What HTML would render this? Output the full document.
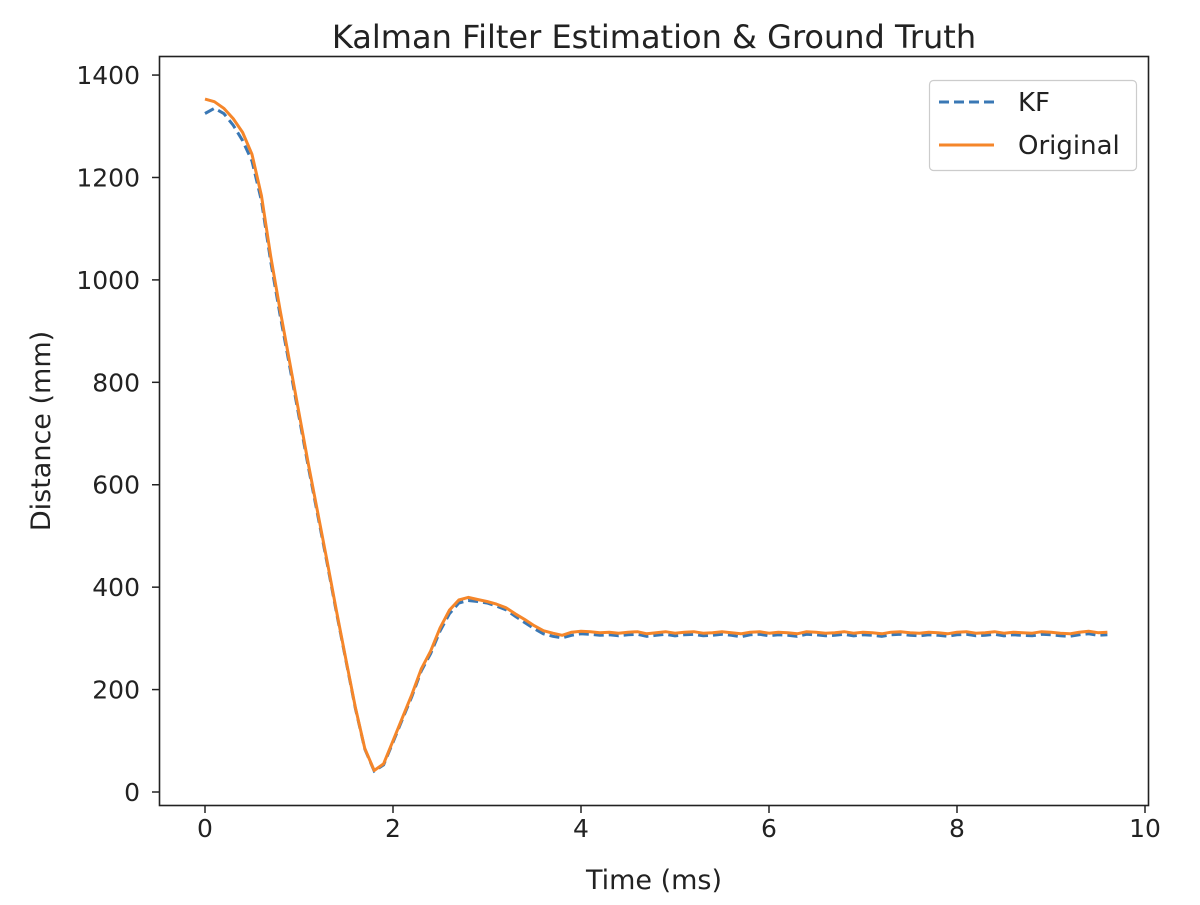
<!DOCTYPE html>
<html><head><meta charset="utf-8"><style>
body{margin:0;background:#fff;}
svg text{font-family:"DejaVu Sans","Liberation Sans",sans-serif;fill:#222;}
</style></head><body>
<svg id="chart" width="1200" height="900" xmlns="http://www.w3.org/2000/svg">
<rect width="1200" height="900" fill="#fff"/>
<text x="654" y="48" font-size="32" text-anchor="middle">Kalman Filter Estimation &amp; Ground Truth</text>
<g id="ticks"></g>
<g id="series"></g>
<rect x="159.5" y="56.5" width="989" height="749" fill="none" stroke="#222" stroke-width="1.6"/>
<text x="654" y="889" font-size="27" text-anchor="middle">Time (ms)</text>
<text transform="translate(50,431) rotate(-90)" font-size="27" text-anchor="middle">Distance (mm)</text>
<g>
<rect x="929.5" y="80.5" width="207" height="90" rx="4" fill="#fff" stroke="#ccc" stroke-width="1.2"/>
<line x1="939" y1="102" x2="994" y2="102" stroke="#3a78b5" stroke-width="3" stroke-dasharray="10 5"/>
<text x="1018" y="111" font-size="26">KF</text>
<line x1="939" y1="145" x2="994" y2="145" stroke="#f5862a" stroke-width="3"/>
<text x="1018" y="154" font-size="26">Original</text>
</g>
</svg>
<script>
const xTicks=[0,2,4,6,8,10];
const yTicks=[0,200,400,600,800,1000,1200,1400];
const dt=0.1;
const original=[1353,1348,1335,1315,1288,1245,1165,1045,940,840,740,640,545,450,352,258,165,85,42,55,100,145,190,240,275,320,355,375,380,376,372,367,360,348,337,325,315,310,306,312,314,313,311,312,310,312,313,309,311,313,310,312,313,310,311,313,311,309,312,313,310,312,311,309,313,312,310,311,313,310,312,311,309,312,313,311,310,312,311,309,312,313,310,311,313,310,312,311,310,313,312,310,309,312,314,311,312];
const kf=[1325,1335,1325,1302,1272,1232,1155,1035,930,832,733,634,540,446,349,256,163,84,41,53,97,142,186,236,270,314,348,369,374,372,369,363,356,343,331,319,309,304,301,306,309,308,306,307,305,307,308,304,306,308,305,307,308,305,306,308,306,303,307,308,305,307,306,304,308,307,305,306,308,305,307,306,304,307,308,306,305,307,306,304,307,308,305,306,308,305,307,306,305,308,307,305,304,307,309,306,307];
const X=t=>205+94*t;
const Y=v=>792-0.5121*v;
const NS='http://www.w3.org/2000/svg';
const tg=document.getElementById('ticks');
function mk(tag,attrs,parent){const e=document.createElementNS(NS,tag);for(const k in attrs)e.setAttribute(k,attrs[k]);parent.appendChild(e);return e;}
xTicks.forEach(t=>{
  const l=mk('line',{x1:X(t),x2:X(t),y1:806,y2:813,stroke:'#222','stroke-width':1.5},tg);
  
  
  const tx=mk('text',{x:X(t),y:837,'font-size':25,'text-anchor':'middle'},tg);
  tx.textContent=t;
  
  
});
yTicks.forEach(v=>{
  const l=mk('line',{x1:152,x2:159,y1:Y(v),y2:Y(v),stroke:'#222','stroke-width':1.5},tg);
  
  
  const tx=mk('text',{x:140,y:Y(v)+9,'font-size':25,'text-anchor':'end'},tg);
  tx.textContent=v;
  
  
});
const sg=document.getElementById('series');
function pts(a){return a.map((v,i)=>X(i*dt).toFixed(1)+','+Y(v).toFixed(1)).join(' ');}
const p1=mk('polyline',{points:pts(kf),fill:'none',stroke:'#3a78b5','stroke-width':3,'stroke-dasharray':'10 5'},sg);


const p2=mk('polyline',{points:pts(original),fill:'none',stroke:'#f5862a','stroke-width':3,'stroke-linejoin':'round'},sg);


</script>
</body></html>
